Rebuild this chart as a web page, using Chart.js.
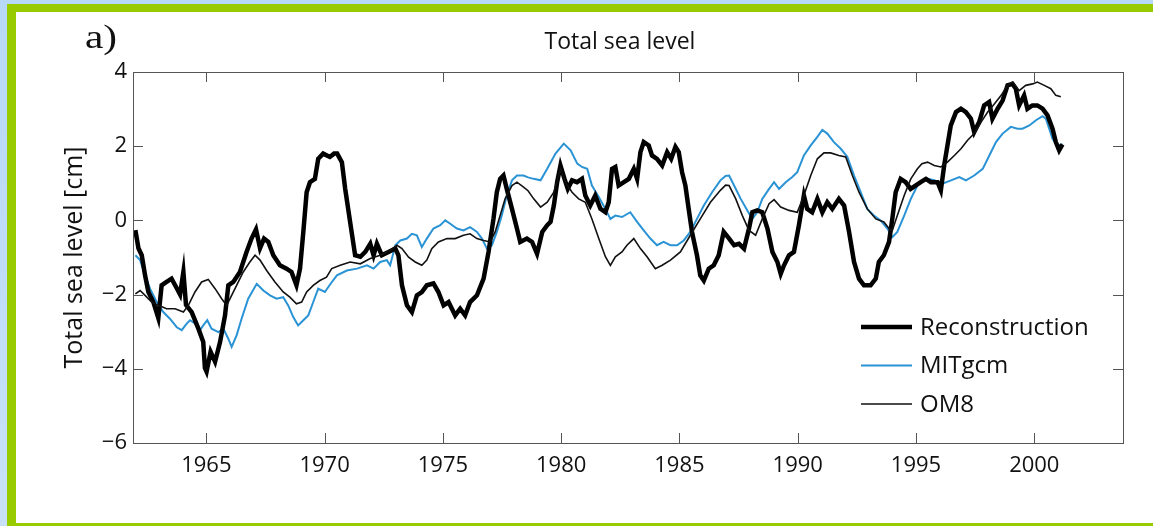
<!DOCTYPE html>
<html><head><meta charset="utf-8">
<script src="https://cdn.jsdelivr.net/npm/chart.js@4.4.1/dist/chart.umd.min.js"></script>
<style>
html,body{margin:0;padding:0;}
body{width:1153px;height:526px;overflow:hidden;background:linear-gradient(#b7d8f7,#c8e1f8);position:relative;}
#frame{position:absolute;left:7px;top:4px;width:1160px;height:530px;background:#99cc00;}
#panel{position:absolute;left:16px;top:12px;width:1137px;height:511px;background:#fff;}
#lab{position:absolute;left:69px;top:7px;font:33px 'Liberation Serif',serif;color:#111;transform:scaleX(1.25);transform-origin:left top;}
#wrap{position:absolute;left:0;top:0;width:1137px;height:511px;}
</style></head>
<body>
<div id="frame"></div>
<div id="panel">
  <div id="wrap"><canvas id="c" width="1137" height="511"></canvas></div>
  <div id="lab">a)</div>
</div>
<script>
const xTicks=[1965,1970,1975,1980,1985,1990,1995,2000];
const yTicks=[-6,-4,-2,0,2,4];
const seriesNames=['Reconstruction','MITgcm','OM8'];

const recYears=[1962.0,1962.13,1962.27,1962.41,1962.55,1962.76,1962.97,1963.11,1963.32,1963.53,1963.75,1963.89,1964.03,1964.14,1964.38,1964.66,1964.87,1964.94,1965.01,1965.18,1965.37,1965.58,1965.79,1965.93,1966.14,1966.42,1966.70,1966.91,1967.10,1967.27,1967.44,1967.62,1967.83,1968.11,1968.39,1968.60,1968.81,1968.96,1969.10,1969.24,1969.38,1969.59,1969.73,1969.94,1970.22,1970.40,1970.53,1970.73,1970.87,1971.08,1971.29,1971.51,1971.72,1971.93,1972.07,1972.21,1972.42,1972.70,1972.99,1973.12,1973.27,1973.48,1973.69,1973.90,1974.11,1974.32,1974.60,1974.81,1975.03,1975.24,1975.52,1975.73,1975.94,1976.15,1976.44,1976.72,1976.93,1977.14,1977.28,1977.42,1977.56,1977.70,1977.92,1978.13,1978.27,1978.55,1978.77,1978.98,1979.20,1979.41,1979.55,1979.69,1979.83,1979.97,1980.14,1980.28,1980.46,1980.67,1980.88,1981.02,1981.23,1981.44,1981.66,1981.87,1982.01,1982.15,1982.29,1982.43,1982.65,1982.86,1983.07,1983.21,1983.35,1983.49,1983.70,1983.84,1984.05,1984.27,1984.48,1984.65,1984.83,1984.97,1985.11,1985.25,1985.39,1985.53,1985.74,1985.88,1986.03,1986.24,1986.45,1986.66,1986.87,1987.10,1987.31,1987.52,1987.73,1987.94,1988.08,1988.29,1988.50,1988.72,1988.93,1989.14,1989.28,1989.42,1989.63,1989.84,1990.05,1990.26,1990.40,1990.61,1990.83,1991.04,1991.25,1991.46,1991.74,1991.96,1992.17,1992.38,1992.59,1992.80,1993.08,1993.30,1993.43,1993.64,1993.86,1994.00,1994.14,1994.35,1994.56,1994.77,1994.98,1995.20,1995.42,1995.63,1995.91,1996.05,1996.19,1996.33,1996.47,1996.69,1996.90,1997.11,1997.32,1997.46,1997.67,1997.88,1998.09,1998.23,1998.45,1998.66,1998.87,1999.08,1999.22,1999.36,1999.57,1999.71,1999.92,2000.13,2000.35,2000.56,2000.77,2000.91,2001.05,2001.19];
const recVals=[-0.26,-0.75,-0.94,-1.48,-1.93,-2.2,-2.63,-1.75,-1.66,-1.57,-1.83,-2.0,-1.39,-2.28,-2.47,-2.91,-3.28,-3.98,-4.08,-3.54,-3.81,-3.28,-2.56,-1.75,-1.66,-1.39,-0.85,-0.49,-0.24,-0.75,-0.49,-0.58,-0.94,-1.21,-1.3,-1.39,-1.75,-1.3,-0.31,0.76,1.03,1.12,1.66,1.8,1.71,1.8,1.8,1.57,0.85,-0.05,-0.94,-0.98,-0.85,-0.63,-0.94,-0.63,-0.94,-0.85,-0.76,-0.94,-1.75,-2.29,-2.47,-2.02,-1.93,-1.75,-1.7,-1.93,-2.29,-2.2,-2.56,-2.38,-2.56,-2.2,-2.02,-1.57,-0.85,0.05,0.76,1.12,1.21,0.85,0.31,-0.22,-0.58,-0.49,-0.58,-0.9,-0.31,-0.13,-0.04,0.4,1.03,1.48,1.12,0.85,1.08,1.03,1.12,0.67,0.4,0.67,0.31,0.22,0.49,1.39,1.44,0.94,1.03,1.12,1.39,1.12,1.84,2.11,2.02,1.75,1.66,1.48,1.84,1.66,1.98,1.84,1.3,0.94,0.31,-0.31,-0.94,-1.48,-1.62,-1.3,-1.21,-0.94,-0.31,-0.49,-0.67,-0.63,-0.76,-0.22,0.22,0.27,0.22,-0.22,-0.85,-1.12,-1.44,-1.21,-0.94,-0.85,-0.13,0.67,0.31,0.22,0.58,0.22,0.49,0.31,0.58,0.4,-0.31,-1.12,-1.57,-1.75,-1.75,-1.57,-1.12,-0.94,-0.58,0.05,0.76,1.12,1.03,0.85,0.94,1.03,1.12,1.03,1.03,0.81,1.48,2.02,2.56,2.92,3.01,2.92,2.74,2.38,2.65,3.1,3.19,2.74,3.01,3.23,3.64,3.68,3.55,3.1,3.37,3.01,3.1,3.1,3.01,2.83,2.47,2.11,1.89,2.05];

const mitYears=[1962.0,1962.2,1962.41,1962.62,1962.9,1963.18,1963.46,1963.75,1963.96,1964.17,1964.31,1964.52,1964.73,1964.87,1965.04,1965.22,1965.51,1965.72,1965.93,1966.07,1966.28,1966.49,1966.77,1967.13,1967.41,1967.69,1967.97,1968.25,1968.46,1968.67,1968.88,1969.1,1969.31,1969.52,1969.73,1970.01,1970.26,1970.52,1970.94,1971.37,1971.79,1972.07,1972.35,1972.63,1972.77,1972.99,1973.2,1973.48,1973.69,1973.9,1974.11,1974.32,1974.6,1974.89,1975.1,1975.31,1975.59,1975.87,1976.15,1976.44,1976.65,1976.86,1977.07,1977.28,1977.49,1977.7,1977.92,1978.13,1978.41,1978.6,1978.84,1979.13,1979.41,1979.76,1980.11,1980.4,1980.68,1980.88,1981.1,1981.3,1981.59,1981.87,1982.08,1982.29,1982.57,1982.92,1983.21,1983.49,1983.77,1984.05,1984.33,1984.62,1984.9,1985.18,1985.46,1985.74,1986.03,1986.38,1986.73,1986.95,1987.1,1987.31,1987.59,1987.87,1988.08,1988.29,1988.5,1988.79,1989.0,1989.21,1989.49,1989.77,1989.98,1990.26,1990.55,1990.83,1991.04,1991.25,1991.53,1991.82,1992.1,1992.38,1992.66,1992.94,1993.22,1993.5,1993.79,1994.0,1994.21,1994.5,1994.78,1995.06,1995.25,1995.49,1995.77,1996.12,1996.48,1996.83,1997.11,1997.46,1997.82,1998.1,1998.38,1998.66,1999.01,1999.29,1999.5,1999.79,2000.07,2000.35,2000.49,2000.63,2000.77,2000.98,2001.19];
const mitVals=[-0.94,-1.07,-1.48,-1.84,-2.2,-2.47,-2.65,-2.88,-2.96,-2.78,-2.69,-2.78,-2.96,-2.83,-2.69,-2.92,-3.01,-2.92,-3.19,-3.41,-3.1,-2.65,-2.11,-1.71,-1.89,-2.02,-2.11,-2.07,-2.29,-2.6,-2.83,-2.69,-2.56,-2.2,-1.84,-1.93,-1.7,-1.48,-1.35,-1.3,-1.21,-1.3,-1.12,-1.07,-1.21,-0.67,-0.54,-0.49,-0.36,-0.4,-0.72,-0.49,-0.22,-0.13,0.0,-0.09,-0.22,-0.27,-0.18,-0.31,-0.49,-0.76,-0.67,-0.31,0.13,0.67,1.08,1.21,1.21,1.16,1.12,1.08,1.39,1.8,2.07,1.89,1.53,1.44,1.39,0.94,0.63,0.31,0.04,0.13,0.09,0.22,-0.04,-0.27,-0.49,-0.67,-0.58,-0.67,-0.67,-0.54,-0.31,0.04,0.4,0.76,1.08,1.2,1.21,0.94,0.58,0.27,0.04,0.22,0.58,0.85,1.03,0.85,1.03,1.17,1.3,1.75,2.02,2.25,2.44,2.34,2.11,1.93,1.71,1.21,0.76,0.31,0.13,0.0,-0.22,-0.45,-0.31,0.13,0.58,0.94,1.06,1.12,1.08,0.99,1.08,1.17,1.08,1.21,1.39,1.75,2.11,2.34,2.52,2.47,2.47,2.56,2.7,2.81,2.74,2.47,2.2,2.02,2.05];

const omYears=[1962.0,1962.2,1962.41,1962.69,1962.97,1963.32,1963.68,1964.03,1964.24,1964.52,1964.8,1965.08,1965.37,1965.65,1965.86,1966.07,1966.28,1966.56,1966.84,1967.06,1967.27,1967.55,1967.9,1968.25,1968.53,1968.81,1969.03,1969.24,1969.52,1969.8,1970.08,1970.3,1970.66,1971.08,1971.51,1971.93,1972.35,1972.77,1973.06,1973.27,1973.55,1973.83,1974.11,1974.32,1974.53,1974.81,1975.17,1975.52,1975.87,1976.15,1976.44,1976.72,1977.0,1977.21,1977.42,1977.63,1977.92,1978.13,1978.41,1978.6,1978.84,1979.13,1979.41,1979.69,1979.97,1980.18,1980.46,1980.74,1981.02,1981.3,1981.59,1981.87,1982.08,1982.29,1982.57,1982.78,1983.07,1983.35,1983.63,1983.98,1984.27,1984.62,1985.04,1985.46,1985.88,1986.31,1986.73,1986.95,1987.1,1987.38,1987.66,1987.94,1988.22,1988.5,1988.79,1989.0,1989.28,1989.63,1989.98,1990.26,1990.55,1990.83,1991.11,1991.39,1991.74,1992.03,1992.31,1992.59,1992.94,1993.3,1993.64,1993.86,1994.0,1994.21,1994.5,1994.78,1995.06,1995.25,1995.49,1995.77,1996.05,1996.33,1996.62,1996.9,1997.18,1997.46,1997.75,1998.03,1998.31,1998.6,1998.87,1999.08,1999.36,1999.64,1999.93,2000.13,2000.42,2000.7,2000.91,2001.12];
const omVals=[-1.98,-1.89,-2.02,-2.2,-2.29,-2.38,-2.38,-2.47,-2.29,-1.93,-1.66,-1.59,-1.84,-2.11,-2.29,-2.02,-1.75,-1.39,-1.12,-0.94,-1.07,-1.35,-1.66,-1.93,-2.07,-2.25,-2.2,-1.93,-1.75,-1.62,-1.53,-1.3,-1.21,-1.12,-1.17,-1.03,-0.94,-0.81,-0.67,-0.76,-0.99,-1.12,-1.21,-1.07,-0.76,-0.58,-0.49,-0.49,-0.4,-0.36,-0.49,-0.54,-0.58,-0.31,0.13,0.58,0.94,1.03,0.9,0.8,0.58,0.36,0.49,0.76,1.39,1.03,0.76,0.58,0.49,0.04,-0.49,-0.98,-1.21,-0.98,-0.85,-0.67,-0.49,-0.76,-0.98,-1.3,-1.21,-1.07,-0.85,-0.4,0.04,0.49,0.81,0.95,0.94,0.58,0.13,-0.27,-0.4,0.04,0.45,0.56,0.36,0.27,0.22,0.67,1.21,1.66,1.82,1.82,1.75,1.71,1.21,0.76,0.31,0.04,-0.04,-0.22,-0.27,0.13,0.67,1.12,1.39,1.53,1.57,1.48,1.44,1.57,1.75,1.93,2.16,2.34,2.65,2.92,3.14,3.37,3.64,3.73,3.5,3.64,3.68,3.73,3.64,3.55,3.37,3.33];

const toXY=(xs,ys)=>xs.map((x,i)=>({x:x,y:ys[i]}));
const FONT="'Open Sans', sans-serif";
const minus=v=>v<0?'\u2212'+Math.abs(v):String(v);

const titleShift={id:'titleShift',afterLayout(chart){
  const t=chart.titleBlock;if(!t)return;const c=604;t.left=c-300;t.right=c+300;t.width=600;}};

const frameTicks={id:'frameTicks',afterDatasetsDraw(chart){
  const {ctx,chartArea:a,scales}=chart;const x=scales.x,y=scales.y;
  ctx.save();ctx.strokeStyle='#555';ctx.lineWidth=1;
  ctx.strokeRect(Math.round(a.left)+0.5,Math.round(a.top)+0.5,Math.round(a.right-a.left),Math.round(a.bottom-a.top));
  ctx.beginPath();
  xTicks.forEach(v=>{const p=Math.round(x.getPixelForValue(v))+0.5;ctx.moveTo(p,a.bottom);ctx.lineTo(p,a.bottom-10);ctx.moveTo(p,a.top);ctx.lineTo(p,a.top+10);});
  yTicks.forEach(v=>{const p=Math.round(y.getPixelForValue(v))+0.5;ctx.moveTo(a.left,p);ctx.lineTo(a.left+10,p);ctx.moveTo(a.right,p);ctx.lineTo(a.right-10,p);});
  ctx.stroke();ctx.restore();}};

const inLegend={id:'inLegend',afterDraw(chart){
  const {ctx,chartArea:a}=chart;
  ctx.save();ctx.font='24px '+FONT;ctx.textBaseline='middle';ctx.fillStyle='#111';
  chart.data.datasets.forEach((d,i)=>{
    const yy=a.bottom-116+i*38.5;const x0=a.right-262;
    ctx.strokeStyle=d.borderColor;ctx.lineWidth=d.borderWidth;ctx.beginPath();ctx.moveTo(x0,yy);ctx.lineTo(x0+51,yy);ctx.stroke();
    ctx.fillText(d.label,a.right-203,yy+1);
  });ctx.restore();}};

new Chart(document.getElementById('c'),{
  type:'line',
  data:{datasets:[
    {label:seriesNames[0],data:toXY(recYears,recVals),borderColor:'#000',borderWidth:4.5,pointRadius:0,tension:0,order:1},
    {label:seriesNames[1],data:toXY(mitYears,mitVals),borderColor:'#2a93d5',borderWidth:2,pointRadius:0,tension:0,order:2},
    {label:seriesNames[2],data:toXY(omYears,omVals),borderColor:'#111',borderWidth:1.6,pointRadius:0,tension:0,order:0}
  ]},
  options:{
    responsive:false,animation:false,
    layout:{padding:{left:0,right:30,top:0,bottom:0}},
    plugins:{legend:{display:false},tooltip:{enabled:false},
      title:{display:true,text:'Total sea level',color:'#111',font:{family:FONT,size:23,weight:'normal',lineHeight:1.2},padding:{top:17,bottom:15.4}}},
    scales:{
      x:{type:'linear',min:1961.9,max:2003.75,
        afterBuildTicks:s=>{s.ticks=xTicks.map(v=>({value:v}));},
        afterFit:s=>{s.height=80;},
        grid:{display:false,drawTicks:false},border:{display:false},
        ticks:{color:'#111',padding:10,font:{family:FONT,size:22},callback:v=>String(v),maxRotation:0,autoSkip:false}},
      y:{min:-6,max:4,
        afterBuildTicks:s=>{s.ticks=yTicks.map(v=>({value:v}));},
        afterFit:s=>{s.width=117;},
        grid:{display:false,drawTicks:false},border:{display:false},
        ticks:{color:'#111',padding:6,font:{family:FONT,size:22},callback:v=>minus(v),autoSkip:false},
        title:{display:true,text:'Total sea level [cm]',color:'#111',font:{family:FONT,size:25},padding:44}}
    }
  },
  plugins:[titleShift,frameTicks,inLegend]
});
</script>
</body></html>
